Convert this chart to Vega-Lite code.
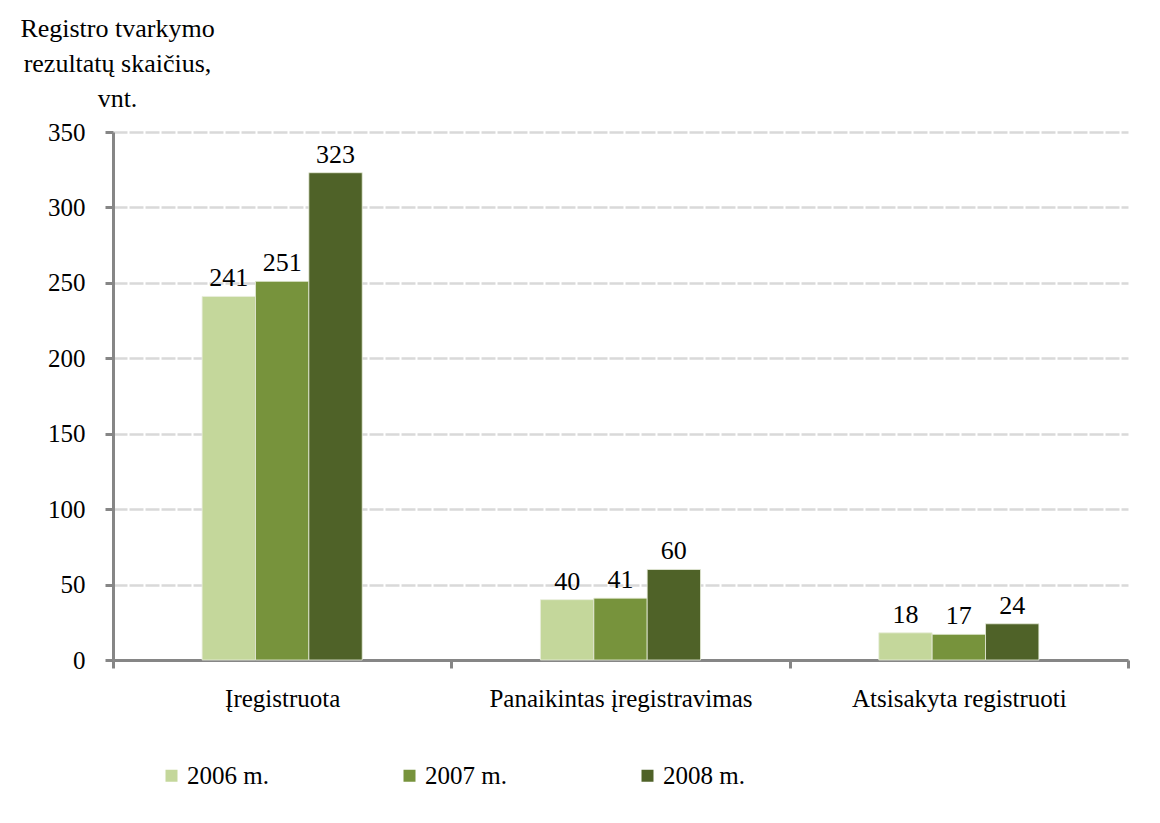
{
  "$schema": "https://vega.github.io/schema/vega-lite/v6.json",
  "width": 1015,
  "height": 528,
  "autosize": {"type": "none"},
  "padding": {"left": 113, "top": 132, "right": 32, "bottom": 163},
  "background": "#ffffff",
  "config": {
    "font": "Liberation Serif",
    "view": {"stroke": null}
  },
  "data": {
    "values": [
      {"cat": "Įregistruota", "year": "2006 m.", "value": 241},
      {"cat": "Įregistruota", "year": "2007 m.", "value": 251},
      {"cat": "Įregistruota", "year": "2008 m.", "value": 323},
      {"cat": "Panaikintas įregistravimas", "year": "2006 m.", "value": 40},
      {"cat": "Panaikintas įregistravimas", "year": "2007 m.", "value": 41},
      {"cat": "Panaikintas įregistravimas", "year": "2008 m.", "value": 60},
      {"cat": "Atsisakyta registruoti", "year": "2006 m.", "value": 18},
      {"cat": "Atsisakyta registruoti", "year": "2007 m.", "value": 17},
      {"cat": "Atsisakyta registruoti", "year": "2008 m.", "value": 24}
    ]
  },
  "encoding": {
    "x": {
      "field": "cat",
      "type": "nominal",
      "sort": ["Įregistruota", "Panaikintas įregistravimas", "Atsisakyta registruoti"],
      "scale": {"paddingInner": 0, "paddingOuter": 0},
      "axis": {
        "title": null,
        "labelAngle": 0,
        "labelFontSize": 25,
        "labelLimit": 500,
        "labelColor": "#000000",
        "labelPadding": 18,
        "tickBand": "extent",
        "tickSize": 8,
        "tickWidth": 3,
        "tickColor": "#868686",
        "domainColor": "#868686",
        "domainWidth": 3,
        "grid": false
      }
    },
    "xOffset": {
      "field": "year",
      "type": "nominal",
      "scale": {"domain": ["", "2006 m.", "2007 m.", "2008 m.", " "], "paddingInner": 0, "paddingOuter": 0.67}
    },
    "y": {
      "field": "value",
      "type": "quantitative",
      "scale": {"domain": [0, 350], "nice": false},
      "axis": {
        "values": [0, 50, 100, 150, 200, 250, 300, 350],
        "title": ["Registro tvarkymo", "rezultatų skaičius,", "vnt."],
        "titleAngle": 0,
        "titleAlign": "center",
        "titleBaseline": "top",
        "titleX": 4,
        "titleY": -117,
        "titleFontSize": 26,
        "titleFontWeight": "normal",
        "titleLineHeight": 35,
        "titleColor": "#000000",
        "labelFontSize": 25,
        "labelColor": "#000000",
        "labelPadding": 20,
        "tickSize": 8,
        "tickWidth": 3,
        "tickColor": "#868686",
        "domainColor": "#868686",
        "domainWidth": 3,
        "gridColor": "#d9d9d9",
        "gridWidth": 2.5,
        "gridDash": [14, 2]
      }
    }
  },
  "layer": [
    {
      "mark": {"type": "bar", "stroke": "#e8eedc", "strokeWidth": 0.8},
      "encoding": {
        "color": {
          "field": "year",
          "type": "nominal",
          "scale": {"domain": ["2006 m.", "2007 m.", "2008 m."], "range": ["#c4d79b", "#77933c", "#4f6228"]},
          "legend": {
            "title": null,
            "orient": "none",
            "direction": "horizontal",
            "legendX": 46,
            "legendY": 631,
            "symbolType": "square",
            "symbolSize": 144,
            "symbolStrokeWidth": 0,
            "labelFontSize": 25,
            "labelColor": "#000000",
            "labelOffset": 3,
            "columnPadding": 128
          }
        }
      }
    },
    {
      "mark": {"type": "text", "baseline": "bottom", "dy": -5, "fontSize": 26, "color": "#000000"},
      "encoding": {"text": {"field": "value", "type": "quantitative"}}
    }
  ]
}
